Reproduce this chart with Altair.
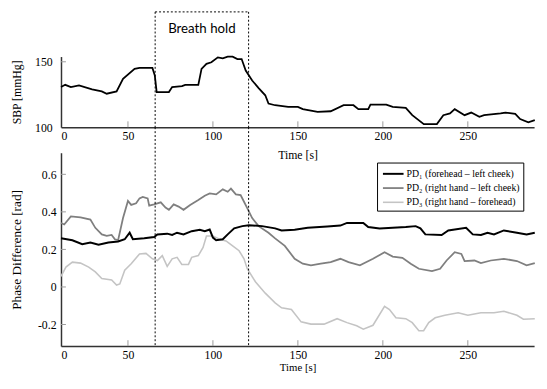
import altair as alt
import pandas as pd

# ---- data ----
sbp_t = [10.6, 13.1, 16.4, 21.2, 28.9, 34.6, 37.5, 43.3, 47.1, 53.9, 56.8, 64.4, 65.8, 66.9,
         74.1, 76.0, 81.8, 83.7, 91.4, 93.3, 96.2, 99.1, 102.9, 105.8, 108.7, 111.6, 114.4,
         116.9, 119.3, 123.1, 126.9, 130.8, 132.7, 136.6, 144.3, 150.0, 152.9, 161.6, 169.3,
         176.9, 182.7, 185.6, 191.4, 192.7, 202.0, 205.8, 213.5, 217.3, 224.1, 231.8, 235.6,
         239.5, 242.3, 248.1, 252.0, 256.8, 259.6, 269.3, 272.1, 277.9, 280.8, 285.6, 289.4]
sbp_v = [130.7, 132.4, 130.7, 131.9, 128.9, 127.4, 125.6, 127.4, 137.0, 144.6, 145.3, 145.3, 139.5,
         126.9, 126.9, 130.7, 131.4, 132.4, 132.4, 144.6, 148.4, 149.6, 153.4, 152.7, 153.9, 153.9,
         152.1, 152.1, 143.3, 135.7, 129.9, 124.4, 118.1, 116.8, 115.5, 115.5, 113.8, 111.8, 112.2,
         116.8, 116.8, 113.8, 113.8, 117.3, 117.3, 115.5, 114.8, 109.2, 102.4, 102.4, 109.2, 110.5,
         113.8, 109.2, 111.2, 107.9, 109.2, 110.5, 111.2, 110.2, 106.2, 103.7, 105.4]

pd1_t = [10.6, 17.3, 23.1, 27.9, 32.7, 38.5, 44.2, 48.1, 51.0, 52.9, 59.6, 65.4, 67.3, 73.1, 76.0,
         78.9, 82.7, 87.5, 92.3, 95.2, 98.1, 100.0, 101.9, 105.8, 108.7, 112.5, 117.3, 121.2,
         128.9, 136.6, 140.4, 148.1, 155.8, 167.3, 175.0, 178.9, 188.5, 191.4, 198.1, 205.8,
         213.5, 219.3, 222.1, 225.0, 234.6, 238.5, 249.0, 252.9, 257.7, 261.6, 265.4, 271.2,
         278.9, 284.6, 289.4]
pd1_v = [0.259, 0.249, 0.228, 0.237, 0.225, 0.237, 0.242, 0.254, 0.289, 0.254, 0.259, 0.266, 0.280,
         0.284, 0.277, 0.289, 0.280, 0.297, 0.305, 0.297, 0.306, 0.263, 0.249, 0.254, 0.280, 0.312,
         0.324, 0.329, 0.324, 0.312, 0.301, 0.305, 0.315, 0.322, 0.327, 0.341, 0.341, 0.319, 0.312,
         0.315, 0.319, 0.324, 0.312, 0.280, 0.277, 0.301, 0.315, 0.280, 0.277, 0.289, 0.280, 0.301,
         0.289, 0.280, 0.289]

pd2_t = [10.6, 12.5, 16.4, 22.1, 27.9, 30.8, 34.6, 37.5, 40.4, 42.3, 44.2, 47.1, 50.0, 51.9, 54.8,
         56.8, 58.7, 61.6, 62.5, 65.4, 69.3, 72.1, 74.1, 76.9, 79.8, 82.7, 86.6, 91.4, 95.2, 98.1,
         101.9, 105.8, 108.7, 110.6, 113.5, 116.3, 118.3, 120.2, 123.1, 126.9, 132.7, 136.6,
         142.3, 148.1, 152.9, 157.7, 163.5, 169.3, 175.0, 179.8, 186.5, 194.2, 201.0, 205.8,
         211.5, 216.4, 221.2, 228.9, 233.7, 237.5, 242.3, 246.2, 248.1, 253.9, 257.7, 263.5,
         271.2, 278.9, 284.6, 289.4]
pd2_v = [0.341, 0.333, 0.376, 0.371, 0.359, 0.315, 0.280, 0.272, 0.277, 0.254, 0.249, 0.367, 0.458,
         0.437, 0.446, 0.472, 0.480, 0.472, 0.433, 0.440, 0.451, 0.423, 0.411, 0.440, 0.428, 0.411,
         0.437, 0.463, 0.486, 0.498, 0.493, 0.520, 0.507, 0.524, 0.493, 0.489, 0.454, 0.420, 0.367,
         0.324, 0.289, 0.259, 0.219, 0.150, 0.124, 0.115, 0.124, 0.132, 0.150, 0.132, 0.115, 0.150,
         0.185, 0.162, 0.155, 0.124, 0.097, 0.085, 0.097, 0.141, 0.185, 0.176, 0.138, 0.141, 0.127,
         0.141, 0.150, 0.138, 0.115, 0.127]

pd3_t = [10.6, 13.5, 17.3, 22.1, 26.9, 30.8, 34.6, 40.4, 43.3, 45.2, 48.1, 51.9, 56.8, 60.6, 64.4,
         67.3, 70.2, 73.1, 76.0, 78.9, 81.7, 85.6, 87.5, 91.4, 94.2, 96.2, 100.0, 103.9, 107.7,
         111.6, 115.4, 118.3, 120.2, 125.0, 130.8, 136.6, 140.4, 146.2, 151.9, 157.7, 165.4,
         173.1, 178.9, 184.6, 188.5, 194.2, 201.0, 203.9, 207.7, 213.5, 217.3, 221.2, 224.0,
         227.0, 230.8, 236.5, 244.3, 250.0, 257.7, 265.4, 271.2, 278.9, 282.7, 289.4]
pd3_v = [0.057, 0.106, 0.132, 0.127, 0.106, 0.080, 0.045, 0.037, 0.010, 0.016, 0.089, 0.124, 0.176,
         0.179, 0.150, 0.141, 0.167, 0.110, 0.150, 0.158, 0.120, 0.120, 0.158, 0.167, 0.211, 0.271,
         0.271, 0.254, 0.245, 0.219, 0.193, 0.150, 0.097, 0.028, -0.033, -0.085, -0.111, -0.120,
         -0.186, -0.198, -0.198, -0.169, -0.190, -0.207, -0.225, -0.204, -0.103, -0.120, -0.164,
         -0.169, -0.190, -0.233, -0.233, -0.190, -0.164, -0.151, -0.137, -0.151, -0.137, -0.137,
         -0.129, -0.151, -0.172, -0.169]

series_names = ["PD\u2081 (forehead \u2013 left cheek)",
                "PD\u2082 (right hand \u2013 left cheek)",
                "PD\u2083 (right hand \u2013 forehead)"]
series_colors = ["#000000", "#7f7f7f", "#c4c4c4"]
series_widths = [2.0, 1.6, 1.6]

breath_hold = [66.0, 121.0]
x_tick_values = [50, 100, 150, 200, 250]
sbp_tick_values = [150]
pd_tick_values = [0.6, 0.4, 0.2, 0.0, -0.2]

# ---- layout constants ----
X0, X1 = 10.6, 289.0
W = 482
H1, H2 = 72, 197
SERIF = "Liberation Serif"
DASH = [2, 2]

xscale = alt.Scale(domain=[X0, X1], nice=False, zero=False)


def x_axis(label_pad, title_pad, title_size):
    return alt.Axis(values=[X0] + x_tick_values,
                    labelExpr="datum.value < 20 ? '0' : datum.label",
                    title="Time [s]", labelPadding=label_pad, titlePadding=title_pad,
                    titleFontSize=title_size, labelFont=SERIF, titleFont=SERIF)


x_top_axis = x_axis(4, 8, 12)
x_bot_axis = x_axis(4, 1, 11)


def X(axis, field="t"):
    return alt.X(f"{field}:Q", scale=xscale, axis=axis)


# ---------------- top panel ----------------
sbp_df = pd.DataFrame({"t": sbp_t, "v": sbp_v})
y_top = alt.Y("v:Q", scale=alt.Scale(domain=[100, 154], nice=False, zero=False),
              axis=alt.Axis(values=[100, 150], title="SBP [mmHg]", labelPadding=9,
                            titleX=-38, labelFont=SERIF, titleFont=SERIF))

sbp_line = alt.Chart(sbp_df).mark_line(color="black", strokeWidth=1.8).encode(x=X(x_top_axis), y=y_top)

xt_df = pd.DataFrame({"t": x_tick_values})
top_xticks = alt.Chart(xt_df).mark_rule(color="#9a9a9a", strokeWidth=1).encode(
    x=X(x_top_axis), y=alt.value(H1 - 6), y2=alt.value(H1))
top_yticks = alt.Chart(pd.DataFrame({"v": sbp_tick_values})).mark_rule(color="#9a9a9a", strokeWidth=1).encode(
    y=y_top, x=alt.value(0), x2=alt.value(5))

bh_df = pd.DataFrame({"t": breath_hold})
top_vlines = alt.Chart(bh_df).mark_rule(color="black", strokeWidth=1, strokeDash=DASH).encode(
    x=X(x_top_axis), y=alt.value(-45.5), y2=alt.value(H1))
bh_span = pd.DataFrame({"t": [breath_hold[0]], "t2": [breath_hold[1]]})
top_hline = alt.Chart(bh_span).mark_rule(color="black", strokeWidth=1, strokeDash=DASH).encode(
    x=X(x_top_axis), x2="t2:Q", y=alt.value(-45.5))
bh_label = pd.DataFrame({"t": [(breath_hold[0] + breath_hold[1]) / 2], "label": ["Breath hold"]})
bh_text = alt.Chart(bh_label).mark_text(font="Lato", fontSize=13.5, color="black", baseline="middle").encode(
    x=X(x_top_axis), y=alt.value(-28), text="label:N")

top = alt.layer(sbp_line, top_xticks, top_yticks, top_vlines, top_hline, bh_text).properties(
    width=W, height=H1)

# ---------------- bottom panel ----------------
rows = []
for name, ts, vs in [(series_names[2], pd3_t, pd3_v), (series_names[1], pd2_t, pd2_v),
                     (series_names[0], pd1_t, pd1_v)]:
    for t, v in zip(ts, vs):
        rows.append({"t": t, "v": v, "series": name})
pd_df = pd.DataFrame(rows)

y_bot = alt.Y("v:Q", scale=alt.Scale(domain=[-0.315, 0.715], nice=False, zero=False),
              axis=alt.Axis(values=pd_tick_values, title="Phase Difference [rad]",
                            titleFontSize=13.5, labelPadding=5, titleX=-38,
                            labelFont=SERIF, titleFont=SERIF,
                            labelExpr="datum.value == 0 ? '0' : (datum.value < 0 ? '-' + format(-datum.value, '.1f') : format(datum.value, '.1f'))"))

pd_lines = alt.Chart(pd_df).mark_line().encode(
    x=X(x_bot_axis), y=y_bot,
    color=alt.Color("series:N", scale=alt.Scale(domain=series_names, range=series_colors),
                    legend=alt.Legend(title=None, orient="none", legendX=322, legendY=10,
                                      strokeColor="black", fillColor="white", padding=3,
                                      symbolType="M-1.4,0H1.4", symbolSize=225, symbolStrokeWidth=2,
                                      symbolOffset=5,
                                      labelFont=SERIF, labelFontSize=10, labelColor="black",
                                      rowPadding=0.5, labelOffset=5, labelLimit=200)),
    strokeWidth=alt.StrokeWidth("series:N", scale=alt.Scale(domain=series_names, range=series_widths),
                                legend=None),
    order=alt.Order("t:Q"),
)

bot_xticks = alt.Chart(xt_df).mark_rule(color="#9a9a9a", strokeWidth=1).encode(
    x=X(x_bot_axis), y=alt.value(H2 - 6), y2=alt.value(H2))
bot_yticks = alt.Chart(pd.DataFrame({"v": pd_tick_values})).mark_rule(color="#9a9a9a", strokeWidth=1).encode(
    y=y_bot, x=alt.value(0), x2=alt.value(5))
bot_vlines = alt.Chart(bh_df).mark_rule(color="black", strokeWidth=1, strokeDash=DASH).encode(
    x=X(x_bot_axis), y=alt.value(-26), y2=alt.value(H2))

bottom = alt.layer(bot_xticks, bot_yticks, pd_lines, bot_vlines).properties(width=W, height=H2)

chart = alt.vconcat(top, bottom, spacing=26, bounds="flush").resolve_legend(
    color="independent", strokeWidth="independent"
).resolve_scale(color="independent", strokeWidth="independent").properties(
    padding={"left": 2, "top": 0, "right": 0, "bottom": 0}
).configure_view(stroke=None).configure_axis(
    domainColor="#333333", domainWidth=1.5, ticks=False, grid=False,
    labelFont=SERIF, labelFontSize=12, labelColor="black",
    titleFont=SERIF, titleFontSize=12, titleFontWeight="normal", titleColor="black",
)

chart.save("out.html", embed_options={"renderer": "svg", "actions": False})
